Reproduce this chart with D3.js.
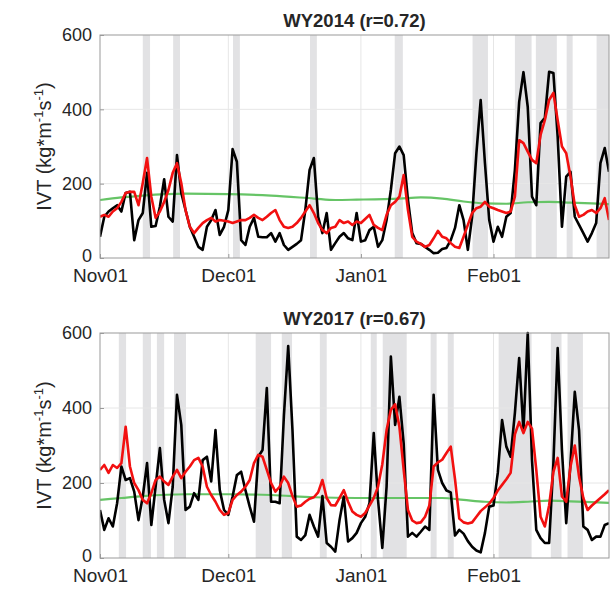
<!DOCTYPE html>
<html lang="en">
<head>
  <meta charset="UTF-8">
  <script src="https://cdn.jsdelivr.net/npm/d3@7"></script>
  <title>IVT WY2014 / WY2017</title>
  <style>
    body { margin: 0; background: #fff; }
    text { font-family: "Liberation Sans", Arial, sans-serif; fill: #262626; }
    path.series { fill: none; stroke-linejoin: round; }
  </style>
</head>
<body>
<script>
  // daily values, day 0 = Nov 01
  const yTicks = [0, 200, 400, 600];
  const monthLabels = ["Nov01", "Dec01", "Jan01", "Feb01"];

  const black2014 = [57,111,125,134,142,125,175,178,48,102,
    121,229,84,86,138,212,111,98,277,175,
    129,84,57,30,22,84,102,129,62,84,
    129,293,259,48,35,84,108,57,56,56,
    67,44,67,35,22,30,38,48,129,237,
    269,111,67,121,22,40,57,67,53,48,
    121,44,48,75,84,30,48,102,183,282,
    300,277,156,67,40,38,30,22,13,14,
    24,27,48,81,142,102,22,111,282,425,
    255,102,44,84,57,111,121,237,420,500,
    407,165,142,363,377,501,498,326,84,219,
    232,111,89,67,44,67,94,255,296,232];
  const red2014 = [111,116,111,125,134,151,175,178,178,142,
    202,269,165,108,125,151,183,229,255,202,
    129,84,67,81,94,102,108,98,102,100,
    98,94,98,102,102,108,116,108,102,111,
    121,129,102,84,81,84,94,108,125,142,
    121,94,75,67,81,84,102,94,98,89,
    98,94,105,116,89,81,75,116,142,151,
    165,223,129,57,44,38,30,35,53,73,
    57,53,40,30,27,57,89,121,134,138,
    151,138,134,129,125,121,125,165,317,309,
    286,264,255,331,371,425,444,371,300,282,
    219,142,111,116,125,129,121,134,161,102];
  const climDays2014 = [0,5,10,20,30,40,50,55,60,70,75,80,85,90,95,100,105,110,115,119];
  const clim2014 = [156,163,168,173,172,168,160,156,157,160,163,160,152,147,146,150,151,149,147,145];
  const bands2014 = [[10,11.7],[17.1,18.7],[31.1,32.7],[49.1,50.7],[68.9,70.8],
    [87.1,90.7],[97,100.9],[101.9,106.8],[109.1,110.5],[116.1,119]];

  const black2017 = [128,75,106,84,146,244,208,213,177,101,
    164,253,88,190,293,155,93,190,435,355,
    128,137,173,155,261,270,204,341,181,128,
    115,164,221,230,181,137,97,270,288,453,
    150,150,146,380,565,341,57,48,61,115,
    84,57,165,40,30,17,101,164,44,53,
    67,93,110,146,333,155,27,190,537,355,
    430,305,57,67,57,70,84,75,435,235,
    200,180,175,60,75,65,45,30,20,15,
    67,137,140,227,368,297,270,387,533,338,
    600,261,75,53,40,40,253,560,288,93,
    253,443,341,84,75,48,57,57,88,93];
  const red2017 = [235,248,227,248,240,253,350,244,200,181,
    155,146,173,208,217,204,195,217,235,213,
    230,244,261,267,244,190,168,150,128,115,
    120,155,168,177,190,208,253,275,270,235,
    200,177,190,217,200,165,137,140,150,158,
    162,175,208,160,141,140,160,181,150,124,
    115,110,120,140,160,190,250,341,395,410,
    350,235,128,100,93,95,110,140,244,255,
    262,280,297,210,105,95,92,95,110,125,
    135,145,160,180,195,210,227,330,363,333,
    363,345,235,110,84,140,230,267,164,150,
    244,300,217,160,128,140,150,160,170,181];
  const climDays2017 = [0,5,10,20,30,40,50,60,70,80,85,90,95,100,105,110,115,119];
  const clim2017 = [155,160,165,170,170,168,162,160,160,160,155,150,148,150,153,151,149,147];
  const bands2017 = [[4.4,6.1],[10,11.9],[13.3,15],[17.3,20.1],[36.4,40],[42.5,44.9],
    [51.4,53],[63.3,64.7],[66.1,71.7],[77.3,78.7],[81.3,82.7],[93.2,100.9],
    [105.4,107.9],[109.3,112.9]];

  const width = 615, height = 592;
  const left = 100, right = 609;
  const font = "'Liberation Sans', Arial, sans-serif";

  const svg = d3.select("body").append("svg")
    .attr("width", width).attr("height", height);

  const panels = [
    { title: "WY2014 (r=0.72)", year: 2013, top: 35, bottom: 258,
      black: black2014, red: red2014, climDays: climDays2014, clim: clim2014, bands: bands2014 },
    { title: "WY2017 (r=0.67)", year: 2016, top: 333, bottom: 558,
      black: black2017, red: red2017, climDays: climDays2017, clim: clim2017, bands: bands2017 }
  ];

  panels.forEach((p, k) => {
    const start = new Date(p.year, 10, 1);
    const end = d3.timeDay.offset(start, p.black.length - 1);
    const day = i => d3.timeDay.offset(start, i);
    const dayF = v => new Date(start.getTime() + v * 864e5);

    const x = d3.scaleTime().domain([start, end]).range([left, right]);
    const y = d3.scaleLinear().domain([0, 600]).range([p.bottom, p.top]);
    const monthTicks = monthLabels.map((_, i) => new Date(p.year, 10 + i, 1));

    const g = svg.append("g");
    const clipId = "clip" + k;
    g.append("clipPath").attr("id", clipId).append("rect")
      .attr("x", left).attr("y", p.top - 2)
      .attr("width", right - left).attr("height", p.bottom - p.top + 2);

    // shaded days
    g.append("g").selectAll("rect").data(p.bands).join("rect")
      .attr("x", d => x(dayF(d[0])))
      .attr("width", d => x(dayF(d[1])) - x(dayF(d[0])))
      .attr("y", p.top).attr("height", p.bottom - p.top)
      .attr("fill", "#e2e2e4");

    // grid
    g.append("g").selectAll("line").data(yTicks.slice(1, -1)).join("line")
      .attr("x1", left).attr("x2", right)
      .attr("y1", d => y(d)).attr("y2", d => y(d))
      .attr("stroke", "#e6e6e6").attr("stroke-width", 1);
    g.append("g").selectAll("line").data(monthTicks.slice(1)).join("line")
      .attr("x1", d => x(d)).attr("x2", d => x(d))
      .attr("y1", p.top).attr("y2", p.bottom)
      .attr("stroke", "#e6e6e6").attr("stroke-width", 1);

    const line = d3.line().x((d, i) => x(day(i))).y(d => y(d));
    const lines = g.append("g").attr("clip-path", `url(#${clipId})`);
    lines.append("path").datum(p.clim.map((v, i) => [p.climDays[i], v]))
      .attr("class", "series")
      .attr("d", d3.line().x(d => x(dayF(d[0]))).y(d => y(d[1])).curve(d3.curveMonotoneX))
      .attr("stroke", "#66c466").attr("stroke-width", 2.2);
    lines.append("path").datum(p.black).attr("class", "series")
      .attr("d", line).attr("stroke", "#000").attr("stroke-width", 2.6);
    lines.append("path").datum(p.red).attr("class", "series")
      .attr("d", line).attr("stroke", "#f21010").attr("stroke-width", 2.6);

    // axes box
    g.append("rect").attr("x", left).attr("y", p.top)
      .attr("width", right - left).attr("height", p.bottom - p.top)
      .attr("fill", "none").attr("stroke", "#9a9a9a").attr("stroke-width", 1);

    const yAxis = d3.axisLeft(y).tickValues(yTicks).tickSize(-4).tickPadding(8);
    g.append("g").attr("transform", `translate(${left},0)`).call(yAxis)
      .call(a => a.select(".domain").remove())
      .call(a => a.selectAll("line").attr("stroke", "#9a9a9a"))
      .call(a => a.selectAll("text").attr("font-size", 18).attr("fill", "#262626")
        .style("font-family", font)
        .attr("dy", d => d === 0 ? "0.17em" : "0.32em"));

    const xAxis = d3.axisBottom(x).tickValues(monthTicks)
      .tickFormat((d, i) => monthLabels[i]).tickSize(-4).tickPadding(11);
    g.append("g").attr("transform", `translate(0,${p.bottom})`).call(xAxis)
      .call(a => a.select(".domain").remove())
      .call(a => a.selectAll("line").attr("stroke", "#9a9a9a"))
      .call(a => a.selectAll("text").attr("font-size", 19).attr("fill", "#262626")
        .style("font-family", font));

    // title
    g.append("text").attr("x", (left + right) / 2).attr("y", p.top - 8)
      .attr("text-anchor", "middle").attr("font-size", 18.5).attr("font-weight", "bold")
      .text(p.title);

    // y label
    const cy = (p.top + p.bottom) / 2;
    const lab = g.append("text")
      .attr("transform", `translate(51,${cy}) rotate(-90)`)
      .attr("text-anchor", "middle").attr("font-size", 20);
    lab.append("tspan").text("IVT (kg*m");
    lab.append("tspan").attr("dy", -8).attr("font-size", 13).text("-1");
    lab.append("tspan").attr("dy", 8).text("s");
    lab.append("tspan").attr("dy", -8).attr("font-size", 13).text("-1");
    lab.append("tspan").attr("dy", 8).text(")");
  });
</script>
</body>
</html>
